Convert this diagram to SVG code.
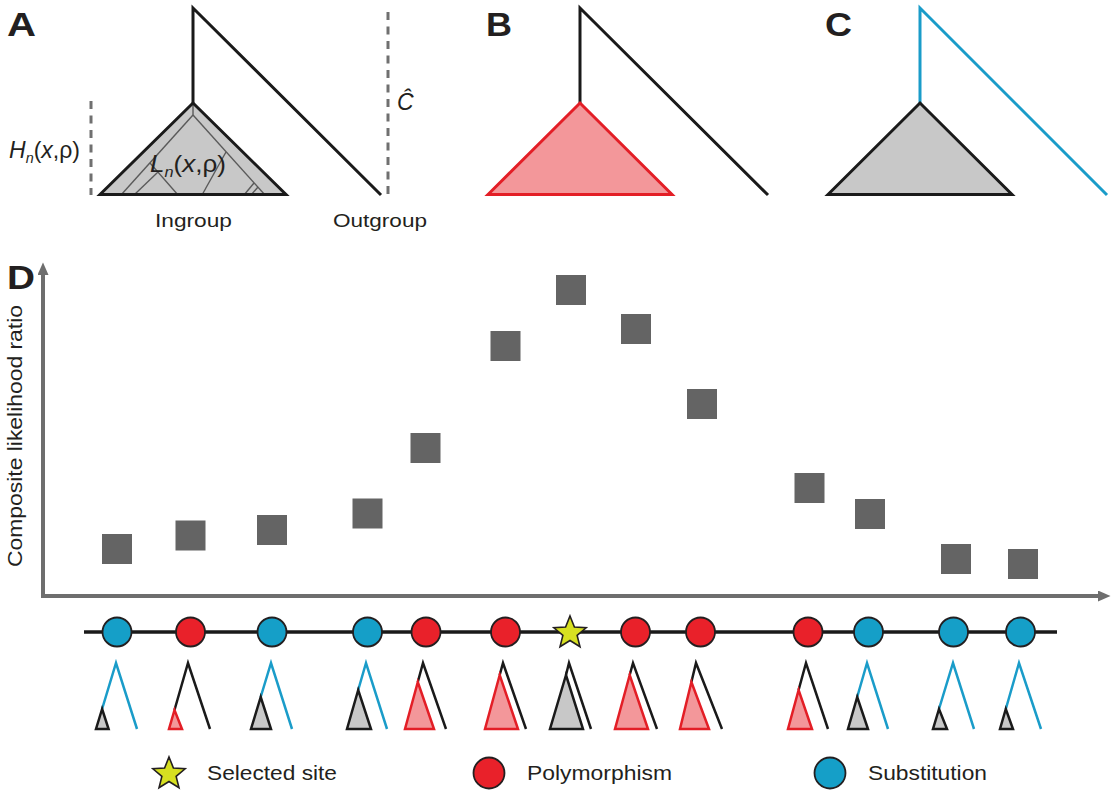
<svg xmlns="http://www.w3.org/2000/svg" width="1116" height="800" viewBox="0 0 1116 800">
<defs>
<style>
.t{font-family:"Liberation Sans",Arial,Helvetica,sans-serif;fill:#231f20}
.lab{font-size:33px;font-weight:bold}
.blk{fill:none;stroke:#1a1a1a;stroke-width:3;stroke-linejoin:miter}
.cy{fill:none;stroke:#1a9cc9;stroke-width:3;stroke-linejoin:miter}
.inner{fill:none;stroke:#5a5a5a;stroke-width:1.4}
.dash{fill:none;stroke:#707070;stroke-width:3;stroke-dasharray:8 6.5}
.gfill{fill:#c8c8c8;stroke:none}
.gtri{fill:#c8c8c8;stroke:#1a1a1a;stroke-width:3;stroke-linejoin:miter}
.rtri{fill:#f3979a;stroke:#e31e26;stroke-width:3;stroke-linejoin:miter}
.sq{fill:#646464}
.axis{stroke:#6e6e6e;stroke-width:4;fill:none}
.site{stroke:#1a1a1a;stroke-width:3.5;fill:none}
.pol{fill:#e9212a;stroke:#231f20;stroke-width:1.8}
.sub{fill:#159fc8;stroke:#231f20;stroke-width:1.8}
.star{fill:#d7e021;stroke:#231f20;stroke-width:1.6;stroke-linejoin:miter}
.tb{fill:none;stroke:#1a1a1a;stroke-width:2.5;stroke-linejoin:miter}
.tc{fill:none;stroke:#1a9cc9;stroke-width:2.5;stroke-linejoin:miter}
.tg{fill:#c8c8c8;stroke:#1a1a1a;stroke-width:2.5;stroke-linejoin:miter}
.tr{fill:#f3979a;stroke:#e31e26;stroke-width:2.5;stroke-linejoin:miter}
.leg{font-size:19.5px}
</style>
<marker id="arr" markerUnits="userSpaceOnUse" markerWidth="14" markerHeight="12" refX="0" refY="5.5" orient="auto"><path d="M0,0 L12.5,5.5 L0,11 Z" fill="#6e6e6e"/></marker>
<polygon id="star" points="0,-17 4.41,-6.07 16.17,-5.25 7.13,2.32 9.99,13.75 0,7.5 -9.99,13.75 -7.13,2.32 -16.17,-5.25 -4.41,-6.07"/>
</defs>
<rect width="1116" height="800" fill="#ffffff"/>

<g id="panelA">
  <text class="t lab" x="7" y="36" textLength="29" lengthAdjust="spacingAndGlyphs">A</text>
  <polygon class="gfill" points="100,194.5 193,103 286,194.5"/>
  <g class="inner">
    <path d="M193,104 L193,115"/>
    <path d="M193,115 L121,195"/>
    <path d="M193,115 L265,195"/>
    <path d="M150,163 L178,195"/>
    <path d="M158,172 L134,195"/>
    <path d="M226,152 L202,195"/>
    <path d="M254,183 L244,195"/>
    <path d="M258,187 L251,195"/>
  </g>
  <polygon class="blk" points="100,194.5 193,103 286,194.5"/>
  <polyline class="blk" points="193,103 193,8 381,195"/>
  <line class="dash" x1="91" y1="101" x2="91" y2="195"/>
  <line class="dash" x1="388" y1="12" x2="388" y2="195"/>
  <text class="t" x="9" y="158" font-size="24" textLength="71" lengthAdjust="spacingAndGlyphs"><tspan font-style="italic">H</tspan><tspan font-style="italic" font-size="15" dy="5">n</tspan><tspan dy="-5">(</tspan><tspan font-style="italic">x</tspan>,ρ)</text>
  <text class="t" x="150" y="172" font-size="24" textLength="76" lengthAdjust="spacingAndGlyphs"><tspan font-style="italic">L</tspan><tspan font-style="italic" font-size="15" dy="5">n</tspan><tspan dy="-5">(</tspan><tspan font-style="italic">x</tspan>,ρ)</text>
  <text class="t" x="397" y="110" font-size="23" font-style="italic">Ĉ</text>
  <text class="t" x="155" y="227" font-size="19" textLength="77" lengthAdjust="spacingAndGlyphs">Ingroup</text>
  <text class="t" x="333" y="227" font-size="19" textLength="94" lengthAdjust="spacingAndGlyphs">Outgroup</text>
</g>

<g id="panelB">
  <text class="t lab" x="486" y="36" textLength="26" lengthAdjust="spacingAndGlyphs">B</text>
  <polyline class="blk" points="580,103 580,8 768,195"/>
  <polygon class="rtri" points="488,194.5 580,103 672,194.5"/>
</g>

<g id="panelC">
  <text class="t lab" x="825" y="36" textLength="27" lengthAdjust="spacingAndGlyphs">C</text>
  <polyline class="cy" points="920,103 920,8 1107,195"/>
  <polygon class="gtri" points="828,194.5 920,103 1012,194.5"/>
</g>

<g id="panelD">
  <text class="t lab" x="7" y="289" textLength="28" lengthAdjust="spacingAndGlyphs">D</text>
  <g id="axes">
    <line class="axis" x1="43" y1="598" x2="43" y2="275" marker-end="url(#arr)"/>
    <line class="axis" x1="41" y1="596" x2="1098" y2="596" marker-end="url(#arr)"/>
  </g>
  <text class="t" transform="translate(22,567) rotate(-90)" font-size="19.5" textLength="262" lengthAdjust="spacingAndGlyphs">Composite likelihood ratio</text>
  <g id="points" class="sq">
    <rect x="102" y="534" width="30" height="30"/>
    <rect x="175.5" y="520.5" width="30" height="30"/>
    <rect x="257" y="515" width="30" height="30"/>
    <rect x="352.5" y="498.5" width="30" height="30"/>
    <rect x="410.5" y="433" width="30" height="30"/>
    <rect x="490.5" y="331" width="30" height="30"/>
    <rect x="556" y="275" width="30" height="30"/>
    <rect x="621" y="314" width="30" height="30"/>
    <rect x="687" y="389" width="30" height="30"/>
    <rect x="794.5" y="473" width="30" height="30"/>
    <rect x="855" y="499" width="30" height="30"/>
    <rect x="941" y="544" width="30" height="30"/>
    <rect x="1008" y="549" width="30" height="30"/>
  </g>
  <g id="connectors">
    <path class="site" d="M84,632 L1057,632"/>
  </g>
  <g id="sites">
    <circle class="sub" cx="117" cy="632" r="14.5"/>
    <circle class="pol" cx="190.5" cy="632" r="14.5"/>
    <circle class="sub" cx="272" cy="632" r="14.5"/>
    <circle class="sub" cx="367.5" cy="632" r="14.5"/>
    <circle class="pol" cx="426" cy="632" r="14.5"/>
    <circle class="pol" cx="505.5" cy="632" r="14.5"/>
    <use href="#star" class="star" x="570" y="633"/>
    <circle class="pol" cx="635.5" cy="632" r="14.5"/>
    <circle class="pol" cx="700.5" cy="632" r="14.5"/>
    <circle class="pol" cx="808" cy="632" r="14.5"/>
    <circle class="sub" cx="868.5" cy="632" r="14.5"/>
    <circle class="sub" cx="953.5" cy="632" r="14.5"/>
    <circle class="sub" cx="1020.5" cy="632" r="14.5"/>
  </g>
  <g id="trees">
    <g id="t1"><polyline class="tc" points="102.1,709 116,663 137,729"/><polygon class="tg" points="102.1,709 96,729 108.6,729"/></g>
    <g id="t2"><polyline class="tb" points="174.5,710 188,663 210,729"/><polygon class="tr" points="174.5,710 169,729 182,729"/></g>
    <g id="t3"><polyline class="tc" points="260.7,697 271,663 292,729"/><polygon class="tg" points="260.7,697 251,729 271,729"/></g>
    <g id="t4"><polyline class="tc" points="358.2,690 366,663 387,729"/><polygon class="tg" points="358.2,690 347,729 371,729"/></g>
    <g id="t5"><polyline class="tb" points="417.8,682 423,663 446,729"/><polygon class="tr" points="417.8,682 405,729 434,729"/></g>
    <g id="t6"><polyline class="tb" points="499.7,675 503,663 526,729"/><polygon class="tr" points="499.7,675 485,729 518,729"/></g>
    <g id="t7"><polyline class="tb" points="566,675 569,663 591,729"/><polygon class="tg" points="566,675 550,729 583,729"/></g>
    <g id="t8"><polyline class="tb" points="629.7,675 633,663 657,729"/><polygon class="tr" points="629.7,675 615,729 648,729"/></g>
    <g id="t9"><polyline class="tb" points="691.4,682 696,663 722,729"/><polygon class="tr" points="691.4,682 680,729 709,729"/></g>
    <g id="t10"><polyline class="tb" points="798.6,690 806,663 828,729"/><polygon class="tr" points="798.6,690 788,729 812,729"/></g>
    <g id="t11"><polyline class="tc" points="857.2,697 867,663 888,729"/><polygon class="tg" points="857.2,697 848,729 868,729"/></g>
    <g id="t12"><polyline class="tc" points="939,709 953,663 974,729"/><polygon class="tg" points="939,709 933,729 947,729"/></g>
    <g id="t13"><polyline class="tc" points="1005.8,709 1019,663 1041,729"/><polygon class="tg" points="1005.8,709 1000,729 1013,729"/></g>
  </g>
</g>

<g id="legend">
  <g id="leg-star"><use href="#star" class="star" x="169" y="774"/><text class="t leg" x="207" y="780" textLength="130" lengthAdjust="spacingAndGlyphs">Selected site</text></g>
  <g id="leg-pol"><circle class="pol" cx="489" cy="773" r="15.5"/><text class="t leg" x="527" y="780" textLength="145" lengthAdjust="spacingAndGlyphs">Polymorphism</text></g>
  <g id="leg-sub"><circle class="sub" cx="830" cy="773" r="15.5"/><text class="t leg" x="868" y="780" textLength="119" lengthAdjust="spacingAndGlyphs">Substitution</text></g>
</g>
</svg>
